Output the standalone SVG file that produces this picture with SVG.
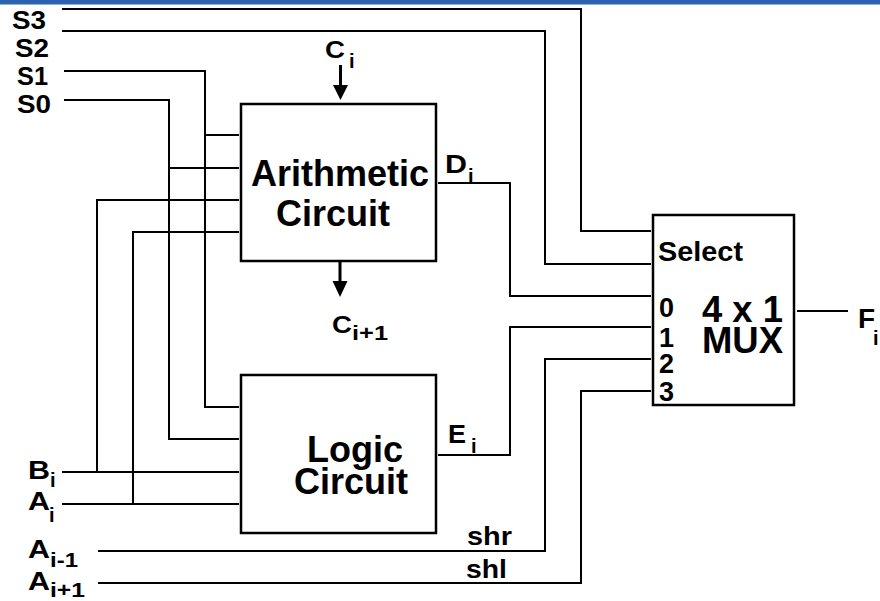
<svg xmlns="http://www.w3.org/2000/svg" width="880" height="601" viewBox="0 0 880 601">
<style>
  .t { font-family: "Liberation Sans", Arial, sans-serif; font-weight: bold; fill: #000; }
  .s { font-size: 25px; }
  .sub { font-size: 20px; }
  .big { font-size: 36px; }
  .box { fill: #fff; stroke: #000; stroke-width: 2.5; }
  .w { fill: none; stroke: #000; stroke-width: 2; }
  .arr { fill: none; stroke: #000; stroke-width: 3; }
</style>
<rect x="0" y="0" width="880" height="601" fill="#fff"/>
<rect x="0" y="0" width="880" height="4.5" fill="#2a62ae"/>

<g id="connectors">
  <path class="w" d="M62,9 H581 V231 H651"/>
  <path class="w" d="M62,31 H545 V264 H651"/>
  <path class="w" d="M64,71 H205 V407 H239"/>
  <path class="w" d="M64,100 H169 V439 H239"/>
  <path class="w" d="M205,135 H239"/>
  <path class="w" d="M169,168 H239"/>
  <path class="w" d="M62,472 H239"/>
  <path class="w" d="M97,472 V200 H239"/>
  <path class="w" d="M62,504 H239"/>
  <path class="w" d="M133,504 V232 H239"/>
  <path class="w" d="M438,183 H510 V296 H651"/>
  <path class="w" d="M438,455 H510 V327 H651"/>
  <path class="w" d="M98,551 H545 V359 H651"/>
  <path class="w" d="M98,583 H581 V391 H651"/>
  <path class="w" d="M797,311 H848"/>
  <path class="arr" d="M340.5,65 V87"/>
  <polygon points="333,85 348,85 340.5,100" fill="#000"/>
  <path class="arr" d="M340,262 V283"/>
  <polygon points="332.5,281 347.5,281 340,297" fill="#000"/>
</g>

<g id="arith">
  <rect class="box" x="241" y="104" width="195" height="157"/>
  <text class="t big" x="251" y="186">Arithmetic</text>
  <text class="t big" x="276" y="226">Circuit</text>
</g>

<g id="logic">
  <rect class="box" x="241" y="375" width="195" height="158"/>
  <text class="t big" x="307" y="462">Logic</text>
  <text class="t big" x="294" y="494">Circuit</text>
</g>

<g id="mux">
  <rect class="box" x="653" y="215" width="141" height="190"/>
  <text class="t" x="658" y="261" font-size="27" textLength="85" lengthAdjust="spacingAndGlyphs">Select</text>
  <text class="t" x="659" y="317" font-size="27">0</text>
  <text class="t" x="659" y="347" font-size="27">1</text>
  <text class="t" x="659" y="373" font-size="27">2</text>
  <text class="t" x="659" y="401" font-size="27">3</text>
  <text class="t" x="702" y="322" font-size="36" textLength="81" lengthAdjust="spacingAndGlyphs">4 x 1</text>
  <text class="t" x="702" y="353" font-size="36" textLength="81" lengthAdjust="spacingAndGlyphs">MUX</text>
</g>

<g id="labels">
  <text class="t s" x="12" y="29" textLength="34" lengthAdjust="spacingAndGlyphs">S3</text>
  <text class="t s" x="15" y="57" textLength="34" lengthAdjust="spacingAndGlyphs">S2</text>
  <text class="t s" x="17" y="85" textLength="31" lengthAdjust="spacingAndGlyphs">S1</text>
  <text class="t s" x="17" y="113" textLength="34" lengthAdjust="spacingAndGlyphs">S0</text>

  <text class="t s" x="28" y="479" textLength="22" lengthAdjust="spacingAndGlyphs">B</text>
  <text class="t sub" x="50" y="487">i</text>
  <text class="t s" x="28" y="510" textLength="22" lengthAdjust="spacingAndGlyphs">A</text>
  <text class="t sub" x="49" y="522">i</text>
  <text class="t s" x="28" y="558" textLength="22" lengthAdjust="spacingAndGlyphs">A</text>
  <text class="t sub" x="50" y="567" textLength="28" lengthAdjust="spacingAndGlyphs">i-1</text>
  <text class="t s" x="28" y="590" textLength="22" lengthAdjust="spacingAndGlyphs">A</text>
  <text class="t sub" x="50" y="597" textLength="35" lengthAdjust="spacingAndGlyphs">i+1</text>

  <text class="t" x="325" y="58" font-size="23" textLength="20" lengthAdjust="spacingAndGlyphs">C</text>
  <text class="t sub" x="349" y="68">i</text>
  <text class="t" x="332" y="333" font-size="23" textLength="20" lengthAdjust="spacingAndGlyphs">C</text>
  <text class="t sub" x="352" y="340" textLength="36" lengthAdjust="spacingAndGlyphs">i+1</text>

  <text class="t" x="445" y="173" font-size="25" textLength="22" lengthAdjust="spacingAndGlyphs">D</text>
  <text class="t sub" x="468" y="183">i</text>
  <text class="t" x="448" y="443" font-size="25" textLength="18" lengthAdjust="spacingAndGlyphs">E</text>
  <text class="t sub" x="471" y="453">i</text>

  <text class="t s" x="467" y="545" textLength="45" lengthAdjust="spacingAndGlyphs">shr</text>
  <text class="t s" x="466" y="578" textLength="41" lengthAdjust="spacingAndGlyphs">shl</text>

  <text class="t" x="858" y="328" font-size="28">F</text>
  <text class="t sub" x="873" y="345">i</text>
</g>
</svg>
